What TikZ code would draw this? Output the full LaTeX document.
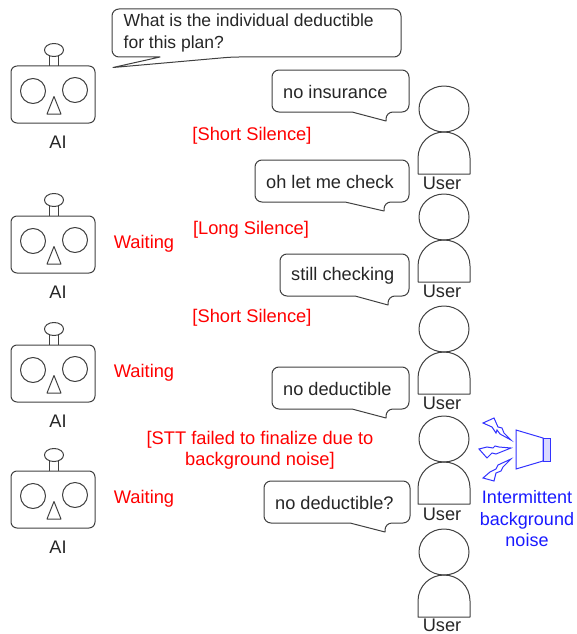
\documentclass[tikz,border=0pt]{standalone}
\usepackage{fontspec}
\setmainfont{Liberation Sans}
\tikzset{
  x=1pt,y=-1pt,
  ln/.style={draw=black!75,line width=1pt,line join=round},
  bub/.style={ln,fill=white,rounded corners=7pt},
  txt/.style={inner sep=0pt,text=black!85,font=\fontsize{18.2}{21}\selectfont},
  redt/.style={inner sep=0pt,text=red,align=center,font=\fontsize{18.3}{21}\selectfont},
  bluet/.style={inner sep=0pt,text=blue!90,align=center,font=\fontsize{18}{21.5}\selectfont},
  bl/.style={draw=blue!80,line width=1pt,line join=miter},
  robot/.pic={
    \draw[ln,rounded corners=6pt] (11,66) rectangle (95,123);
    \draw[ln] (49.5,66) -- (49.5,56) (58.5,56) -- (58.5,66);
    \draw[ln] (54,50) ellipse [x radius=9.5,y radius=6.5];
    \draw[ln] (33,91) circle [radius=12.5];
    \draw[ln] (75,90) circle [radius=12.5];
    \draw[ln] (47,114) -- (61,114) -- (54,96.5) -- cycle;
  },
  person/.pic={
    \draw[ln] (444,109) ellipse [x radius=25,y radius=23];
    \draw[ln] (418,174) -- (418,158) .. controls (418,143) and (430,132) .. (444,132) .. controls (458,132) and (470,143) .. (470,158) -- (470,174) -- cycle;
  }
}
\begin{document}
\begin{tikzpicture}
\useasboundingbox (0,0) rectangle (577,634);
% robots
\pic at (0,0) {robot};
\pic at (0,150) {robot};
\pic at (0,279) {robot};
\pic at (0,405) {robot};
\node[txt] (ai1) at (58,142.5) {AI};
\node[txt] (ai2) at (58,292.5) {AI};
\node[txt] (ai3) at (58,421.5) {AI};
\node[txt] (ai4) at (58,547.5) {AI};
% users
\pic at (0,0) {person};
\pic at (0,108) {person};
\pic at (0,220) {person};
\pic at (0,330) {person};
\pic at (0,443) {person};
\node[txt] (u1) at (442,183.5) {User};
\node[txt] (u2) at (442,291.5) {User};
\node[txt] (u3) at (442,403.5) {User};
\node[txt] (u4) at (442,514.5) {User};
\node[txt] (u5) at (442,625.5) {User};
% bubbles
\draw[bub] (112,9) -- (401,9) -- (401,57) -- (232,57) [sharp corners] -- (113,67.5) -- (160,57) [rounded corners=7pt] -- (112,57) -- cycle;
\node[txt,align=left,anchor=west,font=\fontsize{17.5}{22}\selectfont] (q) at (123.5,33) {What is the individual deductible\\for this plan?};
\draw[bub] (272,70) -- (409,70) -- (409,112) -- (386,112) [sharp corners] -- (386,121) -- (352,112) [rounded corners=7pt] -- (272,112) -- cycle;
\node[txt,anchor=west] (b1) at (283,92) {no insurance};
\draw[bub] (255,160) -- (409,160) -- (409,202) -- (384,202) [sharp corners] -- (384,211) -- (345,202) [rounded corners=7pt] -- (255,202) -- cycle;
\node[txt,anchor=west] (b2) at (266,182) {oh let me check};
\draw[bub] (280,254) -- (409,254) -- (409,296) -- (388,296) [sharp corners] -- (388,305) -- (355,296) [rounded corners=7pt] -- (280,296) -- cycle;
\node[txt,anchor=west] (b3) at (291,276) {still checking};
\draw[bub] (272,367) -- (409,367) -- (409,409) -- (386,409) [sharp corners] -- (386,418) -- (352,409) [rounded corners=7pt] -- (272,409) -- cycle;
\node[txt,anchor=west] (b4) at (283,389) {no deductible};
\draw[bub] (264,481) -- (410,481) -- (410,523) -- (385,523) [sharp corners] -- (385,532) -- (350,523) [rounded corners=7pt] -- (264,523) -- cycle;
\node[txt,anchor=west] (b5) at (275,503) {no deductible?};
% red labels
\node[redt] (r1) at (252,136) {[Short Silence]};
\node[redt] (r2) at (251,230) {[Long Silence]};
\node[redt] (r3) at (252,318) {[Short Silence]};
\node[redt] (r4) at (260,450.5) {[STT failed to finalize due to\\background noise]};
\node[redt] (w1) at (144,244) {Waiting};
\node[redt] (w2) at (144,373) {Waiting};
\node[redt] (w3) at (144,499) {Waiting};
% noise
\draw[bl] (516,430) -- (543,438) -- (543,461) -- (516,469) -- cycle;
\draw[bl,fill=blue!15] (543,438) rectangle (550,461);
\draw[bl] (483,423) -- (494,418) -- (498,427) -- (502,428) -- (504,433) -- (511,440) -- (500,434) -- (497,430) -- (496,433) -- (492,427) -- cycle;
\draw[bl] (479,449) -- (487,458) -- (492,453) -- (496,454) -- (511,448) -- (499,447) -- (495,446) -- (493,448) -- (487,447) -- cycle;
\draw[bl] (483,478) -- (494,481) -- (496,473) -- (501,471) -- (503,467) -- (511,459) -- (498,465) -- (496,469) -- (490,472) -- cycle;
\node[bluet] (n) at (527,519) {Intermittent\\background\\noise};
\end{tikzpicture}
\end{document}
